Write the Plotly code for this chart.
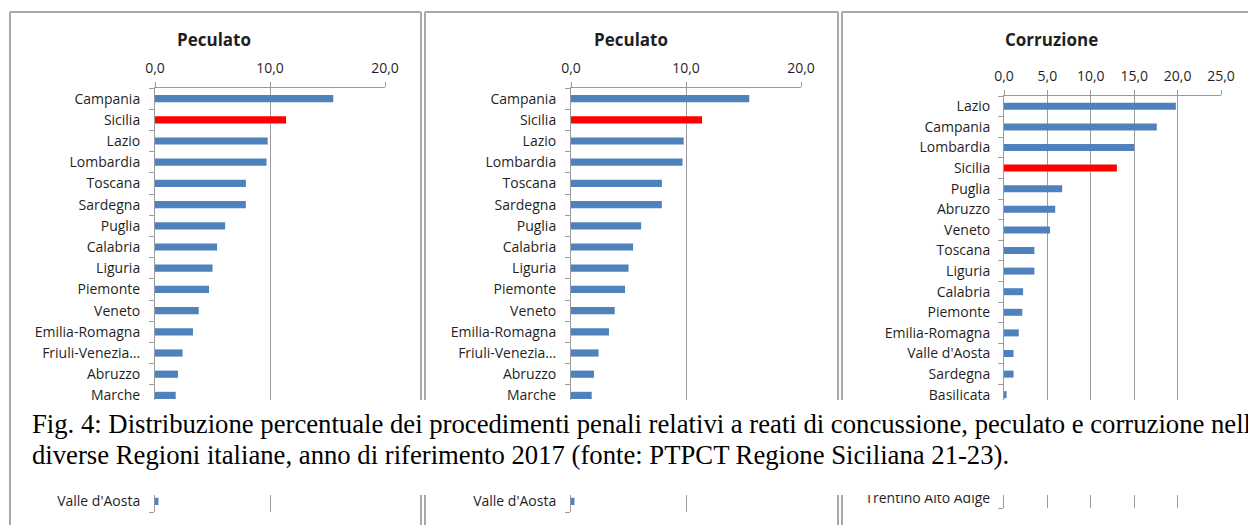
import plotly.graph_objects as go

# ---------------- data ----------------
pec_regions = ["Campania", "Sicilia", "Lazio", "Lombardia", "Toscana", "Sardegna", "Puglia",
               "Calabria", "Liguria", "Piemonte", "Veneto", "Emilia-Romagna", "Friuli-Venezia…",
               "Abruzzo", "Marche", "Molise", "Umbria", "Basilicata", "Trentino Alto Adige",
               "Valle d'Aosta"]
pec_values = [15.5, 11.4, 9.8, 9.7, 7.9, 7.9, 6.1, 5.4, 5.0, 4.7, 3.8, 3.3, 2.4, 2.0, 1.8,
              1.2, 0.9, 0.6, 0.4, 0.3]
# rows hidden behind the caption box in the source picture
pec_hidden = ["Molise", "Umbria", "Basilicata", "Trentino Alto Adige"]

cor_regions = ["Lazio", "Campania", "Lombardia", "Sicilia", "Puglia", "Abruzzo", "Veneto",
               "Toscana", "Liguria", "Calabria", "Piemonte", "Emilia-Romagna", "Valle d'Aosta",
               "Sardegna", "Basilicata", "Friuli-Venezia…", "Marche", "Molise", "Umbria",
               "Trentino Alto Adige"]
cor_values = [19.8, 17.6, 15.0, 13.0, 6.7, 5.9, 5.3, 3.5, 3.5, 2.2, 2.1, 1.7, 1.1, 1.1, 0.3,
              0.3, 0.2, 0.2, 0.1, 0.0]
cor_hidden = ["Friuli-Venezia…", "Marche", "Molise", "Umbria"]

panel_titles = ["Peculato", "Peculato", "Corruzione"]
caption_lines = [
    "Fig. 4: Distribuzione percentuale dei procedimenti penali relativi a reati di concussione, peculato e corruzione nelle",
    "diverse Regioni italiane, anno di riferimento 2017 (fonte: PTPCT Regione Siciliana 21-23).",
]
highlight = "Sicilia"

# ---------------- style ----------------
W, H = 1248, 525
BLUE = "#4F81BD"
RED = "#FF0000"
GRID = "#9a9a9a"
TXT = "#1f1f1f"
FONT = "Open Sans"


def X(px):
    return px / W


def Y(py):
    return 1 - py / H


fig = go.Figure()

panels = [
    dict(regions=pec_regions, values=pec_values, hidden=pec_hidden, x0=155, x1=385, y0=88, y1=512,
         rng=[0, 20], dt=10, tx=214, so=11),
    dict(regions=pec_regions, values=pec_values, hidden=pec_hidden, x0=571, x1=801, y0=88, y1=512,
         rng=[0, 20], dt=10, tx=631, so=11),
    dict(regions=cor_regions, values=cor_values, hidden=cor_hidden, x0=1004, x1=1221, y0=96, y1=508,
         rng=[0, 25], dt=5, tx=1051, so=10),
]

layout = dict(
    width=W, height=H, margin=dict(l=0, r=0, t=0, b=0),
    paper_bgcolor="white", plot_bgcolor="white", showlegend=False,
    separators=",.", font=dict(family=FONT, size=13, color=TXT),
    bargap=0.66,
)

annotations = []
for i, p in enumerate(panels):
    n = "" if i == 0 else str(i + 1)
    colors = [RED if r == highlight else BLUE for r in p["regions"]]
    fig.add_trace(go.Bar(
        x=p["values"], y=p["regions"], orientation="h",
        marker=dict(color=colors, line=dict(width=0)),
        xaxis="x" + n, yaxis="y" + n, hoverinfo="x+y",
    ))
    layout["xaxis" + n] = dict(
        domain=[X(p["x0"]), X(p["x1"])], anchor="y" + n, side="top",
        range=p["rng"], dtick=p["dt"], tick0=0, tickformat=".1f",
        showgrid=True, gridcolor=GRID, gridwidth=1,
        showline=True, linecolor=GRID, linewidth=1,
        ticks="outside", ticklen=5, tickcolor=GRID, zeroline=False,
        tickfont=dict(family=FONT, size=14, color=TXT), ticklabelstandoff=3,
        fixedrange=True, automargin=False,
    )
    layout["yaxis" + n] = dict(
        domain=[Y(p["y1"]), Y(p["y0"])], anchor="x" + n,
        type="category", categoryorder="array", categoryarray=p["regions"],
        tickmode="array", tickvals=p["regions"],
        ticktext=["" if r in p["hidden"] else r for r in p["regions"]],
        autorange="reversed", showgrid=False,
        showline=True, linecolor=GRID, linewidth=1,
        ticks="outside", tickson="boundaries", ticklen=5, tickcolor=GRID,
        tickfont=dict(family=FONT, size=14, color=TXT), ticklabelstandoff=p["so"],
        fixedrange=True, automargin=False,
    )
    annotations.append(dict(
        text="<b>" + panel_titles[i] + "</b>", x=X(p["tx"]), y=Y(40), xref="paper", yref="paper",
        xanchor="center", yanchor="middle", showarrow=False,
        font=dict(family=FONT, size=17, color=TXT),
    ))

# panel frames
BORDER = "#a8a8a8"
shapes = []
frames = [(10, 421), (425, 838), (842, 1250)]
for (a, b) in frames:
    shapes.append(dict(type="line", xref="paper", yref="paper", x0=X(a), x1=X(b), y0=Y(12), y1=Y(12),
                       line=dict(color=BORDER, width=2), layer="above"))
    shapes.append(dict(type="line", xref="paper", yref="paper", x0=X(a), x1=X(a), y0=Y(12), y1=Y(530),
                       line=dict(color=BORDER, width=2), layer="above"))
    if b < W:
        shapes.append(dict(type="line", xref="paper", yref="paper", x0=X(b), x1=X(b), y0=Y(12),
                           y1=Y(530), line=dict(color=BORDER, width=2), layer="above"))

# caption box covering part of the charts
shapes.append(dict(type="rect", xref="paper", yref="paper", x0=X(12), x1=X(1260), y0=Y(495), y1=Y(400),
                   fillcolor="white", line=dict(width=0), layer="above"))

for line, py in zip(caption_lines, [424, 455]):
    annotations.append(dict(
        text=line, x=X(30), y=Y(py), xref="paper", yref="paper", xanchor="left", yanchor="middle",
        showarrow=False, font=dict(family="Liberation Serif", size=26.7, color="#000000"),
    ))

layout["shapes"] = shapes
layout["annotations"] = annotations
fig.update_layout(**layout)
fig.write_html(
    "out.html",
    config={"displayModeBar": False},
    post_script="document.body.style.margin='0px';document.body.style.overflow='hidden';",
)
